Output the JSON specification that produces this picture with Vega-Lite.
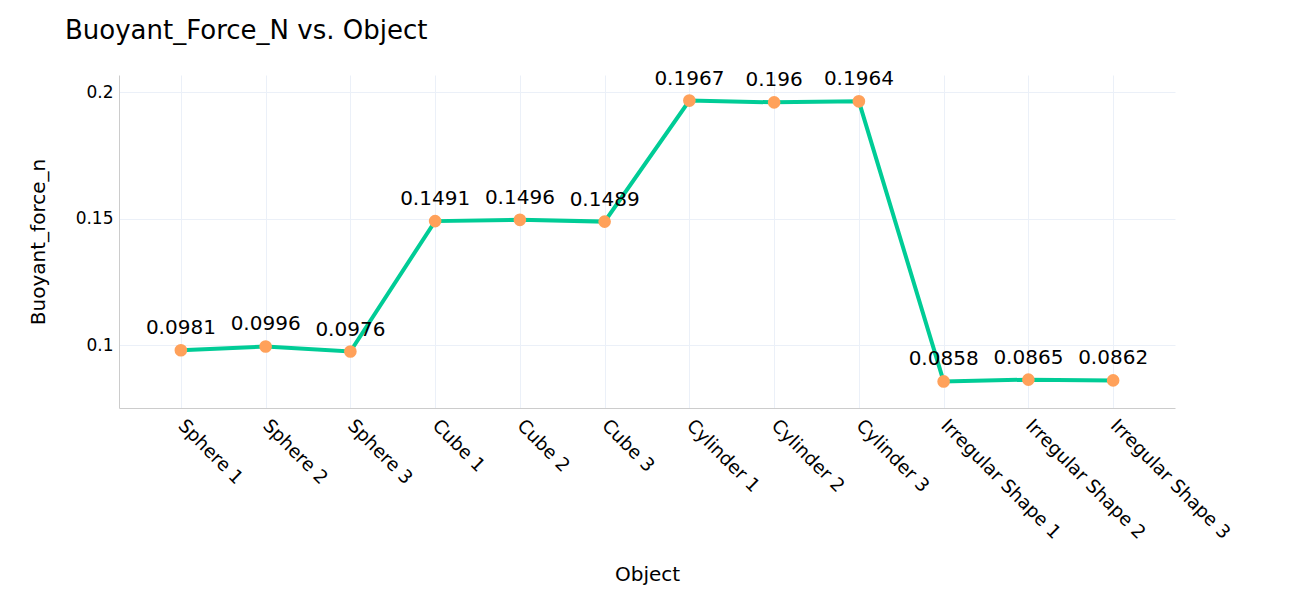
{
  "$schema": "https://vega.github.io/schema/vega-lite/v6.json",
  "autosize": {"type": "none"},
  "width": 1056,
  "height": 333,
  "padding": {"left": 119, "top": 75, "right": 121, "bottom": 192},
  "background": "white",
  "config": {
    "font": "DejaVu Sans",
    "view": {"stroke": null},
    "axis": {"labelColor": "black", "titleColor": "black", "titleFontWeight": "normal"}
  },
  "title": {
    "text": "Buoyant_Force_N vs. Object",
    "anchor": "start",
    "frame": "group",
    "fontSize": 26,
    "fontWeight": "normal",
    "color": "black",
    "baseline": "alphabetic",
    "offset": 4,
    "dx": -54
  },
  "data": {
    "values": [
      {"Object": "Sphere 1", "Buoyant_Force_N": 0.0981},
      {"Object": "Sphere 2", "Buoyant_Force_N": 0.0996},
      {"Object": "Sphere 3", "Buoyant_Force_N": 0.0976},
      {"Object": "Cube 1", "Buoyant_Force_N": 0.1491},
      {"Object": "Cube 2", "Buoyant_Force_N": 0.1496},
      {"Object": "Cube 3", "Buoyant_Force_N": 0.1489},
      {"Object": "Cylinder 1", "Buoyant_Force_N": 0.1967},
      {"Object": "Cylinder 2", "Buoyant_Force_N": 0.196},
      {"Object": "Cylinder 3", "Buoyant_Force_N": 0.1964},
      {"Object": "Irregular Shape 1", "Buoyant_Force_N": 0.0858},
      {"Object": "Irregular Shape 2", "Buoyant_Force_N": 0.0865},
      {"Object": "Irregular Shape 3", "Buoyant_Force_N": 0.0862}
    ]
  },
  "encoding": {
    "x": {
      "field": "Object",
      "type": "ordinal",
      "sort": null,
      "scale": {"type": "point", "padding": 0.73},
      "axis": {
        "title": "Object",
        "titleFontSize": 20,
        "titleBaseline": "middle",
        "titleY": 166,
        "labelFontSize": 18.5,
        "labelAngle": 45,
        "labelAlign": "left",
        "labelBaseline": "middle",
        "labelPadding": 14,
        "ticks": false,
        "grid": true,
        "gridColor": "#EBF0F8",
        "gridWidth": 1,
        "domainColor": "#cccccc",
        "domainWidth": 1
      }
    },
    "y": {
      "field": "Buoyant_Force_N",
      "type": "quantitative",
      "scale": {"domain": [0.0753, 0.2068], "nice": false, "zero": false},
      "axis": {
        "title": "Buoyant_force_n",
        "titleFontSize": 20,
        "titleBaseline": "middle",
        "titleX": -81,
        "labelFontSize": 17,
        "labelPadding": 6,
        "values": [0.1, 0.15, 0.2],
        "format": ".2~f",
        "ticks": false,
        "grid": true,
        "gridColor": "#EBF0F8",
        "gridWidth": 1,
        "domainColor": "#cccccc",
        "domainWidth": 1
      }
    }
  },
  "layer": [
    {"mark": {"type": "line", "color": "#00CC96", "strokeWidth": 4}},
    {"mark": {"type": "point", "filled": true, "color": "#FFA15A", "opacity": 1, "size": 160}},
    {
      "mark": {"type": "text", "fontSize": 20, "baseline": "alphabetic", "dy": -16, "color": "black"},
      "encoding": {"text": {"field": "Buoyant_Force_N", "type": "quantitative", "format": ".4~f"}}
    }
  ]
}
